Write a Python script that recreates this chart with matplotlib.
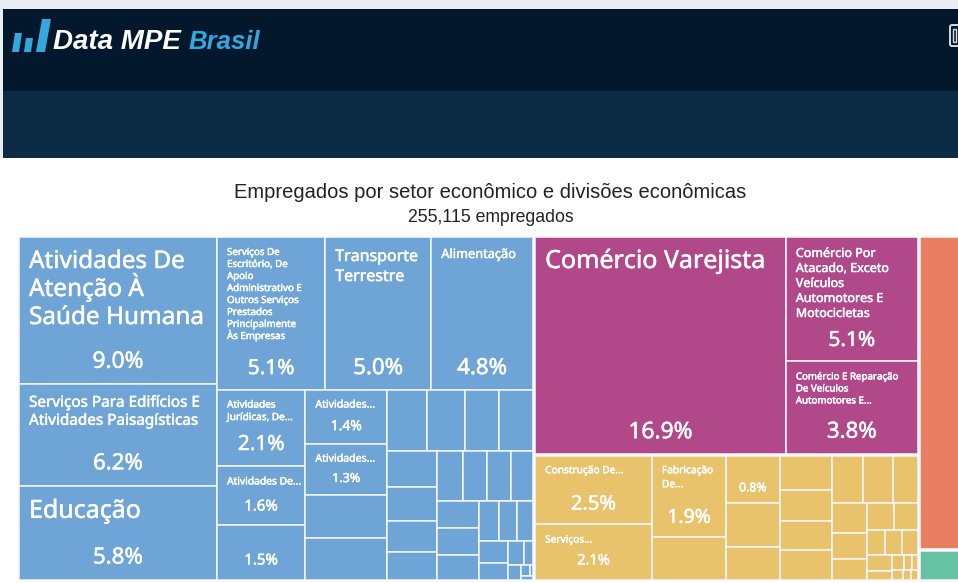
import matplotlib
matplotlib.use("Agg")
import matplotlib.pyplot as plt
import matplotlib.patches as mpatches
import matplotlib.patheffects as pe

W, H = 958, 583

title = "Empregados por setor econômico e divisões econômicas"
subtitle = "255,115 empregados"

# treemap values in percent, nested lists flip between columns and rows
blue_values = [
    [8.98, 6.24, 5.76],
    [
        [5.1, 5.0, 4.8],
        [
            [2.1, 1.6, 1.5],
            [1.36, 1.28, 1.1, 1.05],
            [
                [0.76, 0.72, 0.65, 0.65],
                [
                    [0.55, 0.53, 0.49, 0.43],
                    [
                        [0.39, 0.38, 0.36, 0.34],
                        [
                            [0.35, 0.35, 0.32],
                            [
                                [0.26, 0.225, 0.2],
                                [
                                    [0.2, 0.155],
                                    [
                                        [0.115, 0.07],
                                        [0.058, [[0.028, 0.012], 0.015]],
                                    ],
                                ],
                            ],
                        ],
                    ],
                ],
            ],
        ],
    ],
]
purple_values = [16.9, [5.1, 3.8]]
yellow_values = [
    [2.46, 2.06],
    [1.87, 1.0],
    [0.78, 0.73, 0.56],
    [0.55, 0.50, 0.48, 0.48],
    [
        [0.46, 0.45, 0.36],
        [
            [0.33, 0.28, 0.23],
            [
                [0.22, 0.20],
                [0.15, 0.13, 0.13],
                [[0.125, 0.073], [[0.052, 0.041, 0.026], [0.031, 0.025, 0.021]]],
            ],
        ],
    ],
]
orange_value = 4.05
green_value = 0.40

blue_labels = {
    0: "Atividades De\nAtenção À\nSaúde Humana",
    1: "Serviços Para Edifícios E\nAtividades Paisagísticas",
    2: "Educação",
    3: "Serviços De\nEscritório, De\nApoio\nAdministrativo E\nOutros Serviços\nPrestados\nPrincipalmente\nÀs Empresas",
    4: "Transporte\nTerrestre",
    5: "Alimentação",
    6: "Atividades\nJurídicas, De...",
    7: "Atividades De...",
    8: "",
    9: "Atividades...",
    10: "Atividades...",
}
purple_labels = {
    0: "Comércio Varejista",
    1: "Comércio Por\nAtacado, Exceto\nVeículos\nAutomotores E\nMotocicletas",
    2: "Comércio E Reparação\nDe Veículos\nAutomotores E...",
}
yellow_labels = {
    0: "Construção De...",
    1: "Serviços...",
    2: "Fabricação\nDe...",
    4: "",
}

# per cell: title size, line pitch px, first baseline from cell top, pct size, pct offset from bottom
blue_styles = {
    0: (17.5, 28, 31, 16.4, 24), 1: (11, 18, 23, 16, 24), 2: (18, 0, 32, 16, 24),
    3: (7.0, 12, 18, 15, 23), 4: (11.5, 20, 24, 16, 23), 5: (9.2, 0, 21, 16, 23),
    6: (7.2, 12.5, 18, 15, 24), 7: (7.4, 0, 18, 10.8, 20), 8: (7, 0, 18, 10.8, 21),
    9: (7.6, 0, 18, 10, 19), 10: (7.6, 0, 18, 9, 18),
}
purple_styles = {
    0: (18, 0, 31, 16.4, 24), 1: (9.0, 15, 20, 15, 23), 2: (7.0, 12, 18, 16, 24),
}
yellow_styles = {
    0: (7.3, 0, 17, 14.5, 21), 1: (7.3, 0, 19, 10.5, 21), 2: (7.3, 14, 17, 14, 21),
    4: (7, 0, 17, 8.8, 17),
}

BLUE = "#6fa5d6"
PURPLE = "#b0488a"
YELLOW = "#e9c26c"
ORANGE = "#e87e62"
GREEN = "#67c2a3"
FONT = "Noto Sans"
THICK = [pe.withStroke(linewidth=0.35, foreground="white")]

map_x0, map_x1, map_y0, map_y1 = 18, 961, 236, 581


def total(node):
    if isinstance(node, list):
        return sum(total(n) for n in node)
    return node


def layout(node, x, y, w, h, cols, out):
    # cut the box along the children, leaves collect in order
    if not isinstance(node, list):
        out.append((node, x, y, w, h))
        return
    s = total(node)
    for child in node:
        f = total(child) / s
        if cols:
            layout(child, x, y, w * f, h, False, out)
            x += w * f
        else:
            layout(child, x, y, w, h * f, True, out)
            y += h * f


def draw_group(ax, values, box, color, labels, styles):
    x, y, w, h = box
    cells = []
    layout(values, x + 1, y + 1, w - 2, h - 2, True, cells)
    for i, (v, cx, cy, cw, ch) in enumerate(cells):
        ax.add_patch(mpatches.Rectangle((cx, cy), cw, ch, fc=color, ec="#f4f7fb", lw=1.1))
        if i in labels:
            fs, pitch, first, pct_fs, off = styles[i]
            if labels[i]:
                for n, line in enumerate(labels[i].split("\n")):
                    ax.text(cx + 10, cy + first + n * pitch, line, color="white", fontsize=fs,
                            family=FONT, va="baseline", ha="left", path_effects=THICK)
            ax.text(cx + cw / 2, cy + ch - off + 2, f"{v:.1f}%", color="white", fontsize=pct_fs,
                    family=FONT, va="center", ha="center", path_effects=THICK)


fig = plt.figure(figsize=(W / 100, H / 100), dpi=100, facecolor="white")
ax = fig.add_axes([0, 0, 1, 1])
ax.set_xlim(0, W)
ax.set_ylim(H, 0)
ax.axis("off")

# page header
ax.add_patch(mpatches.Rectangle((0, 0), W, 9, fc="#e8eef3", ec="none"))
ax.add_patch(mpatches.Rectangle((0, 9), 3, 150, fc="#e8eef3", ec="none"))
ax.add_patch(mpatches.Rectangle((3, 9), W, 82, fc="#03182c", ec="none"))
ax.add_patch(mpatches.Rectangle((3, 91), W, 67, fc="#0b2c44", ec="none"))

# logo
for pts in [[(12, 52), (15, 33), (22, 33), (19, 52)],
            [(24, 52), (26, 38), (33, 38), (31, 52)],
            [(36, 52), (42, 19), (51, 19), (45, 52)]]:
    ax.add_patch(mpatches.Polygon(pts, fc="#35a7dc", ec="none"))
ax.text(53, 42, "Data MPE", color="white", fontsize=20, family="Liberation Sans",
        style="italic", weight="bold", va="center", ha="left")
ax.text(189, 42, "Brasil", color="#35a7dc", fontsize=18.5, family="Liberation Sans",
        style="italic", weight="bold", va="center", ha="left")
ax.add_patch(mpatches.FancyBboxPatch((950, 25), 12, 21, boxstyle="round,pad=0,rounding_size=2",
                                     fc="none", ec="#d5dde3", lw=1.4))
ax.add_patch(mpatches.Rectangle((953, 29), 3, 13, fc="none", ec="#d5dde3", lw=1))

ax.text(490.5, 193, title, color="#222222", fontsize=14.5, family="Liberation Sans",
        ha="center", va="center")
ax.text(490.5, 218, subtitle, color="#222222", fontsize=12.7, family="Liberation Sans",
        ha="center", va="center")

# top level boxes come from the group totals
mid_total = total(purple_values) + total(yellow_values)
side_total = orange_value + green_value
all_total = total(blue_values) + mid_total + side_total
map_w = map_x1 - map_x0
map_h = map_y1 - map_y0
blue_w = map_w * total(blue_values) / all_total
mid_w = map_w * mid_total / all_total
side_w = map_w * side_total / all_total
purple_h = map_h * total(purple_values) / mid_total
orange_h = map_h * orange_value / side_total

draw_group(ax, blue_values, (map_x0, map_y0, blue_w, map_h), BLUE, blue_labels, blue_styles)
mid_x = map_x0 + blue_w
draw_group(ax, purple_values, (mid_x, map_y0, mid_w, purple_h), PURPLE, purple_labels, purple_styles)
draw_group(ax, yellow_values, (mid_x, map_y0 + purple_h, mid_w, map_h - purple_h), YELLOW,
           yellow_labels, yellow_styles)
side_x = mid_x + mid_w
draw_group(ax, [orange_value], (side_x, map_y0, side_w, orange_h), ORANGE, {}, {})
draw_group(ax, [green_value], (side_x, map_y0 + orange_h, side_w, map_h - orange_h), GREEN, {}, {})

fig.savefig("out.png", dpi=100)
